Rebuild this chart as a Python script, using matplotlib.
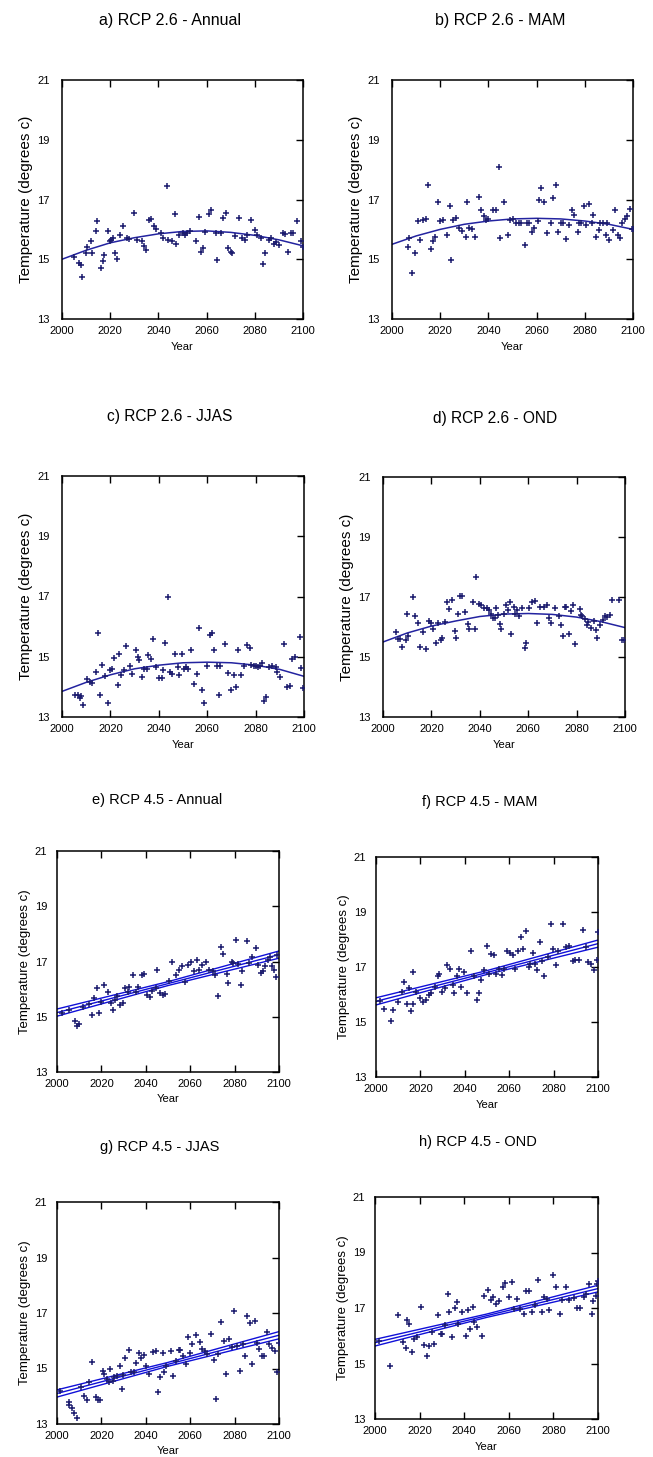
"""Eight-panel temperature projections (RCP 2.6 / 4.5) with fitted trends."""
import matplotlib
matplotlib.use("Agg")
import matplotlib.pyplot as plt

plt.rcParams['font.family'] = ['Liberation Sans', 'DejaVu Sans']

W, H = 653, 1457

# ---- data: (year, temperature) ----
a_pts = [(2005, 15.06), (2007, 14.88), (2008, 14.82), (2008.5, 14.42), (2010, 15.2),
         (2010.5, 15.4), (2012, 15.6), (2012.5, 15.2), (2014, 15.93), (2014.5, 16.27),
         (2016, 14.72), (2017, 14.95), (2017.5, 15.14), (2019, 15.93), (2020, 15.6),
         (2020.5, 15.64), (2021, 15.7), (2022, 15.2), (2023, 15.0), (2024, 15.8),
         (2025.5, 16.1), (2027, 15.7), (2028, 15.67), (2030, 16.55), (2031, 15.65),
         (2033, 15.6), (2034, 15.44), (2035, 15.3), (2036, 16.3), (2037, 16.35),
         (2038, 16.1), (2039, 16.0), (2041, 15.87), (2042, 15.7), (2043.5, 17.45),
         (2044, 15.64), (2045.5, 15.6), (2047, 16.5), (2047.5, 15.5), (2048.5, 15.8),
         (2050, 15.87), (2051, 15.8), (2052, 15.87), (2053, 15.93), (2055.5, 15.6),
         (2056.7, 16.4), (2057.6, 15.25), (2058.7, 15.36), (2059.5, 15.9), (2061, 16.5),
         (2062, 16.66), (2064, 15.87), (2064.5, 14.96), (2066, 15.87), (2067, 16.38),
         (2068, 16.55), (2069, 15.36), (2070, 15.25), (2070.7, 15.2), (2071.6, 15.78),
         (2073.5, 16.38), (2074.8, 15.7), (2076, 15.64), (2076.6, 15.8), (2078.5, 16.32),
         (2080, 15.98), (2081, 15.8), (2082.5, 15.7), (2083.6, 14.85), (2084.4, 15.2),
         (2085.7, 15.64), (2086.7, 15.7), (2088, 15.5), (2089, 15.59), (2090, 15.47),
         (2091.5, 15.87), (2092.5, 15.84), (2093.7, 15.25), (2095, 15.87), (2096, 15.87),
         (2097.7, 16.27), (2099, 15.6), (2100, 15.42)]

b_pts = [(2006.5, 15.4), (2007, 15.7), (2008.5, 14.54), (2009.6, 15.2), (2010.7, 16.27),
         (2011.7, 15.64), (2013, 16.32), (2014, 16.35), (2014.8, 17.5), (2016, 15.34),
         (2017, 15.6), (2018, 15.76), (2019, 16.92), (2020, 16.27), (2021, 16.32),
         (2023, 15.8), (2024, 16.78), (2024.5, 14.98), (2025.5, 16.32), (2026.5, 16.38),
         (2028, 16.04), (2029, 15.93), (2030.5, 15.76), (2031, 16.9), (2032, 16.04),
         (2033, 16.0), (2034.5, 15.76), (2036, 17.1), (2037, 16.64), (2038, 16.44),
         (2039, 16.32), (2040, 16.35), (2042, 16.64), (2043, 16.66), (2044.5, 18.1),
         (2045, 15.7), (2046.5, 16.92), (2048, 15.8), (2049, 16.32), (2050, 16.35),
         (2051.5, 16.21), (2052.5, 16.21), (2053.5, 16.21), (2055, 15.47), (2056, 16.21),
         (2057, 16.21), (2058, 15.9), (2059, 16.04), (2060.5, 16.27), (2061, 17.0),
         (2062, 17.4), (2063, 16.9), (2064.5, 15.87), (2066, 16.21), (2067, 17.04),
         (2068, 17.5), (2069, 15.9), (2070, 16.21), (2071, 16.21), (2072, 15.68),
         (2073.5, 16.15), (2074.5, 16.66), (2075.6, 16.49), (2077, 15.9), (2077.6, 16.21),
         (2078.5, 16.21), (2079.7, 16.77), (2080.6, 16.15), (2081.7, 16.86), (2083, 16.21),
         (2083.6, 16.49), (2084.8, 15.76), (2086, 15.98), (2086.5, 16.21), (2087.6, 16.21),
         (2088.6, 15.8), (2089.2, 16.21), (2090, 15.64), (2091.7, 15.98), (2092.5, 16.64),
         (2093.7, 15.8), (2094.5, 15.7), (2095.6, 16.21), (2096.6, 16.35), (2097.6, 16.44),
         (2098.7, 16.68), (2099.7, 16.0), (2100, 16.0)]

c_pts = [(2005.4, 13.74), (2006.5, 13.72), (2007.5, 13.63), (2008, 13.7), (2008.5, 13.4),
         (2010.5, 14.27), (2011.6, 14.16), (2012.4, 14.14), (2014, 14.49), (2014.7, 15.78),
         (2015.8, 13.72), (2016.7, 14.73), (2017.8, 14.36), (2018.9, 13.47), (2019.8, 14.55),
         (2020.5, 14.6), (2021.4, 14.95), (2023, 14.07), (2023.6, 15.09), (2024.5, 14.38),
         (2025.6, 14.55), (2026.4, 15.35), (2028, 14.7), (2028.8, 14.43), (2030.4, 15.23),
         (2031.2, 14.98), (2032, 14.9), (2033, 14.32), (2034, 14.6), (2035, 14.6),
         (2035.7, 15.05), (2036.6, 14.92), (2037.6, 15.6), (2038.9, 14.65), (2040.1, 14.3),
         (2041.2, 14.3), (2041.7, 14.55), (2042.7, 15.45), (2043.8, 16.98), (2044.8, 14.49),
         (2045.4, 14.43), (2046.6, 15.09), (2047.9, 14.65), (2048.5, 14.38), (2049.5, 15.09),
         (2050.5, 14.6), (2051.3, 14.65), (2052, 14.6), (2053.2, 15.23), (2054.4, 14.1),
         (2055.7, 14.43), (2056.8, 15.97), (2057.9, 13.9), (2058.8, 13.47), (2059.9, 14.68),
         (2061, 15.71), (2062, 15.78), (2063, 15.23), (2063.9, 14.68), (2064.7, 13.74),
         (2065.4, 14.7), (2067.3, 15.41), (2068.5, 14.46), (2069.8, 13.9), (2070.9, 14.38),
         (2072, 13.98), (2072.9, 15.23), (2074, 14.38), (2075.1, 14.68), (2076.3, 15.38),
         (2077.5, 15.3), (2078.1, 14.73), (2079.4, 14.68), (2080.2, 14.68), (2081, 14.65),
         (2081.8, 14.68), (2082.5, 14.79), (2083.3, 13.54), (2084.1, 13.66), (2085.6, 14.65),
         (2086.9, 14.68), (2088.5, 14.65), (2089, 14.49), (2090.2, 14.32), (2091.8, 15.41),
         (2093, 13.98), (2094.1, 14.04), (2095.2, 14.92), (2096.4, 15.0), (2098.3, 15.67),
         (2098.8, 14.62), (2099.6, 13.96)]

d_pts = [(2005.5, 15.82), (2006.3, 15.59), (2007, 15.59), (2007.8, 15.32), (2009.4, 15.57),
         (2009.8, 16.45), (2010.5, 15.71), (2012.5, 17.0), (2013.3, 16.37), (2014.5, 16.12),
         (2015.2, 15.35), (2016.4, 15.82), (2017.7, 15.27), (2019.2, 16.2), (2019.8, 16.12),
         (2020.8, 15.95), (2021.9, 15.46), (2022.7, 16.12), (2023.9, 15.57), (2024.5, 15.63),
         (2025.5, 16.18), (2026.6, 16.84), (2027.3, 16.59), (2028.6, 16.89), (2029.7, 15.87),
         (2030.2, 15.63), (2030.8, 16.45), (2032, 17.05), (2032.8, 17.05), (2033.9, 16.51),
         (2035.2, 16.09), (2035.5, 15.95), (2037, 16.84), (2038, 15.93), (2038.6, 17.66),
         (2039.5, 16.78), (2040.6, 16.75), (2041.7, 16.64), (2043, 16.64), (2043.8, 16.56),
         (2044.5, 16.45), (2045.3, 16.31), (2046.1, 16.31), (2046.9, 16.64), (2047.7, 16.4),
         (2048.4, 16.09), (2048.9, 15.95), (2050, 16.42), (2050.8, 16.73), (2051.6, 16.56),
         (2052.3, 16.84), (2052.7, 15.76), (2054.2, 16.67), (2054.7, 16.45), (2055.5, 16.56),
         (2056.3, 16.37), (2057.4, 16.64), (2058.6, 15.3), (2059, 15.46), (2060.5, 16.64),
         (2061.4, 16.84), (2063, 16.86), (2063.6, 16.12), (2064.8, 16.67), (2066.4, 16.67),
         (2067.7, 16.73), (2068.8, 16.29), (2069.5, 16.12), (2071, 16.64), (2072.7, 16.37),
         (2073.5, 16.07), (2074.2, 15.71), (2075, 16.67), (2075.8, 16.67), (2076.7, 15.76),
         (2077.7, 16.53), (2078.6, 16.73), (2079.2, 15.43), (2081.3, 16.59), (2081.7, 16.4),
         (2082.3, 16.37), (2083.3, 16.26), (2084.4, 16.07), (2084.8, 16.18), (2085.9, 15.98),
         (2087, 16.2), (2088, 15.9), (2088.6, 15.63), (2089.8, 16.07), (2091.1, 16.23),
         (2091.7, 16.37), (2092.7, 16.34), (2093.8, 16.4), (2094.5, 16.89), (2097.7, 16.89),
         (2098.9, 15.57), (2099.5, 15.57)]

e_pts = [(2002.4, 15.12), (2005.5, 15.24), (2007.9, 14.84), (2009, 14.67), (2010, 14.75),
         (2011.8, 15.36), (2014.2, 15.45), (2015.8, 15.06), (2016.5, 15.67), (2017.8, 16.05),
         (2018.9, 15.12), (2020, 15.55), (2021.3, 16.15), (2022.8, 15.9), (2024.1, 15.48),
         (2025.2, 15.24), (2026, 15.6), (2027.2, 15.76), (2028.3, 15.42), (2029.9, 15.48),
         (2030.7, 16.03), (2031.9, 15.9), (2032.6, 16.09), (2034.2, 16.5), (2035.8, 15.88),
         (2036.7, 16.09), (2038.3, 16.5), (2039.4, 16.54), (2040.5, 15.79), (2041.7, 15.73),
         (2043, 15.94), (2044.6, 16.05), (2045.2, 16.7), (2046.5, 15.85), (2047.7, 15.79),
         (2048.8, 15.82), (2050.4, 16.3), (2051.9, 16.98), (2053.5, 16.5), (2055.1, 16.7),
         (2056.2, 16.82), (2057.8, 16.25), (2059, 16.88), (2060.3, 17.0), (2061.9, 16.64),
         (2063, 17.06), (2064.1, 16.7), (2065.4, 16.88), (2066.9, 17.0), (2068.5, 16.7),
         (2070.1, 16.64), (2071.3, 16.52), (2072.4, 15.76), (2074, 17.51), (2074.8, 17.27),
         (2076.4, 16.54), (2077.2, 16.21), (2078.7, 16.98), (2079.5, 16.94), (2080.8, 17.79),
         (2081.4, 16.9), (2083, 16.15), (2083.5, 16.64), (2085.5, 17.73), (2086.6, 16.94),
         (2087.7, 17.18), (2089.8, 17.48), (2090.6, 16.88), (2092.1, 16.58), (2092.9, 16.64),
         (2093.7, 16.82), (2095, 17.06), (2096.1, 17.18), (2096.9, 16.82), (2097.6, 16.7),
         (2098.7, 16.45), (2099.2, 17.24)]

f_pts = [(2002, 15.78), (2003.7, 15.48), (2006.9, 15.04), (2007.7, 15.42), (2010.1, 15.72),
         (2011.7, 16.1), (2012.8, 16.46), (2013.8, 15.64), (2014.9, 16.22), (2015.7, 15.4),
         (2016.5, 15.66), (2016.6, 16.82), (2018.1, 16.1), (2019.7, 15.86), (2021.3, 15.74),
         (2022.5, 15.8), (2023.8, 15.98), (2025, 16.04), (2026.6, 16.28), (2027.8, 16.66),
         (2028.6, 16.76), (2029.8, 16.1), (2031, 16.22), (2032.1, 17.06), (2033.4, 16.94),
         (2034.7, 16.34), (2035.3, 16.06), (2036.6, 16.66), (2037.4, 16.94), (2038.2, 16.28),
         (2039.8, 16.82), (2041.1, 16.06), (2043, 17.6), (2044.3, 16.66), (2045.4, 15.8),
         (2046.2, 16.04), (2047.5, 16.54), (2048.6, 16.88), (2049.8, 17.78), (2050.7, 16.76),
         (2051.8, 17.48), (2053, 17.42), (2054.2, 16.76), (2055.5, 16.94), (2056.7, 16.7),
         (2057.5, 16.94), (2059.1, 17.6), (2060.3, 17.5), (2061.5, 17.42), (2062.6, 16.94),
         (2063.9, 17.6), (2065.5, 18.08), (2066.3, 17.66), (2067.4, 18.32), (2068.7, 17.0),
         (2069.5, 17.12), (2070.6, 17.5), (2071.6, 17.12), (2072.7, 16.88), (2073.8, 17.9),
         (2074.8, 17.22), (2075.9, 16.66), (2077.4, 17.36), (2078.7, 18.56), (2079.9, 17.66),
         (2081.1, 17.06), (2082.2, 17.6), (2084.3, 18.56), (2085.5, 17.72), (2086.8, 17.78),
         (2088.8, 17.22), (2089.7, 17.24), (2091.3, 17.26), (2093.3, 18.34), (2094.5, 17.72),
         (2095.7, 17.18), (2096.8, 17.12), (2098.1, 16.88), (2099.4, 17.24), (2100, 18.26)]

g_pts = [(2001.3, 14.2), (2005.2, 13.67), (2005.6, 13.79), (2006.8, 13.57), (2007.7, 13.4),
         (2008.9, 13.21), (2011, 14.32), (2012.1, 14.0), (2013.7, 13.85), (2014.5, 14.5),
         (2015.8, 15.24), (2017.4, 13.96), (2018.5, 13.85), (2019.4, 13.85), (2020.6, 14.92),
         (2021.3, 14.8), (2022.3, 14.62), (2023.4, 14.52), (2023.9, 15.0), (2025, 14.56),
         (2025.8, 14.68), (2027.1, 14.74), (2028.2, 15.1), (2029.4, 14.26), (2029.8, 14.76),
         (2030.6, 15.39), (2032.3, 15.67), (2033.5, 14.86), (2034.7, 14.86), (2035.8, 15.19),
         (2037.1, 15.55), (2037.9, 15.39), (2039, 15.48), (2040, 15.1), (2041.6, 14.8),
         (2043.2, 15.6), (2044.4, 15.63), (2045.5, 14.14), (2046.5, 14.68), (2047.6, 15.55),
         (2048.4, 14.86), (2049.2, 15.1), (2051.3, 15.63), (2052.4, 14.74), (2053.5, 15.27),
         (2054.8, 15.67), (2055.6, 15.67), (2056.8, 15.46), (2058.1, 15.15), (2058.9, 16.14),
         (2060, 15.57), (2061, 15.87), (2062.6, 16.19), (2064.2, 15.95), (2065.3, 15.71),
         (2066.5, 15.63), (2067.7, 15.51), (2069.4, 16.23), (2070.6, 15.31), (2071.5, 13.9),
         (2072.6, 15.51), (2073.9, 16.67), (2075, 15.99), (2076.1, 14.8), (2077.4, 16.07),
         (2078.7, 15.79), (2079.8, 17.06), (2081, 15.81), (2082.3, 14.92), (2083.9, 15.87),
         (2084.7, 15.46), (2085.5, 16.9), (2086.8, 16.64), (2087.9, 15.15), (2089, 16.7),
         (2090, 15.93), (2091.1, 15.69), (2092.3, 15.46), (2093.2, 15.46), (2094.4, 16.31),
         (2095.5, 15.87), (2096.8, 15.75), (2098.1, 15.63), (2099.2, 14.86), (2100, 15.93)]

h_pts = [(2002, 15.82), (2006.9, 14.91), (2010.1, 16.73), (2012.5, 15.78), (2013.8, 15.57),
         (2014.4, 16.55), (2015.4, 16.43), (2016.5, 15.41), (2017.7, 15.88), (2018.9, 15.94),
         (2020.5, 17.04), (2021.8, 15.66), (2023.4, 15.26), (2024.1, 15.63), (2025.4, 16.12),
         (2026.6, 15.69), (2028.2, 16.73), (2029.4, 16.06), (2030.2, 16.06), (2031.5, 16.37),
         (2032.6, 17.52), (2033.4, 16.86), (2034.7, 15.94), (2035.8, 17.0), (2036.9, 17.2),
         (2037.4, 16.43), (2039, 16.86), (2040.6, 16.0), (2041.7, 16.92), (2042.7, 16.25),
         (2043.8, 17.04), (2044.6, 16.49), (2045.9, 16.3), (2047.8, 16.0), (2049.1, 17.44),
         (2050.7, 17.65), (2051.8, 17.28), (2052.9, 17.4), (2054.2, 17.16), (2055.5, 17.24),
         (2057.4, 17.77), (2058.3, 17.9), (2059.9, 17.4), (2061.5, 17.93), (2062.3, 16.98),
         (2063.9, 17.34), (2065.2, 16.98), (2066.8, 16.79), (2067.9, 17.62), (2069, 17.62),
         (2070.3, 16.86), (2071.6, 17.1), (2073.2, 18.0), (2074.8, 16.84), (2075.9, 17.4),
         (2077, 17.32), (2078, 16.92), (2079.9, 18.2), (2081.2, 17.77), (2082.8, 16.79),
         (2083.9, 17.28), (2085.6, 17.77), (2087.2, 17.28), (2089.2, 17.36), (2090.8, 17.0),
         (2092, 17.0), (2093.6, 17.4), (2094.4, 17.52), (2096, 17.85), (2097.3, 16.79),
         (2097.9, 17.24), (2098.9, 17.44), (2099.5, 17.85), (2100, 17.96)]

# fitted trends (RCP 2.6: curved fit; RCP 4.5: linear fit with bounds)
fit26_years = [2000, 2010, 2020, 2030, 2040, 2050, 2060, 2070, 2080, 2090, 2100]
a_fit = [15.0, 15.3, 15.55, 15.72, 15.85, 15.93, 15.95, 15.9, 15.8, 15.65, 15.45]
b_fit = [15.5, 15.78, 16.0, 16.17, 16.28, 16.35, 16.37, 16.35, 16.28, 16.17, 16.0]
c_fit = [13.85, 14.15, 14.4, 14.6, 14.72, 14.8, 14.82, 14.8, 14.72, 14.58, 14.35]
d_fit = [15.5, 15.8, 16.03, 16.2, 16.35, 16.43, 16.45, 16.42, 16.33, 16.18, 15.98]

fit45_years = [2000, 2050, 2100]
e_fit, e_lo, e_hi = [15.15, 16.2, 17.25], [15.02, 16.13, 17.12], [15.28, 16.27, 17.38]
f_fit, f_lo, f_hi = [15.75, 16.8, 17.85], [15.62, 16.73, 17.72], [15.88, 16.87, 17.98]
g_fit, g_lo, g_hi = [14.1, 15.15, 16.2], [13.97, 15.08, 16.07], [14.23, 15.22, 16.33]
h_fit, h_lo, h_hi = [15.75, 16.72, 17.7], [15.63, 16.66, 17.58], [15.87, 16.78, 17.82]

titles = ['a) RCP 2.6 - Annual', 'b) RCP 2.6 - MAM', 'c) RCP 2.6 - JJAS', 'd) RCP 2.6 - OND',
          'e) RCP 4.5 - Annual', 'f) RCP 4.5 - MAM', 'g) RCP 4.5 - JJAS', 'h) RCP 4.5 - OND']

# axes boxes in pixels: left, top, right, bottom ; title centre in pixels
boxes = [(62, 80, 303, 319), (392, 80, 633, 319),
         (62, 476, 304, 717), (383, 477, 625, 717),
         (57, 851, 279, 1072), (376, 857, 598, 1077),
         (57, 1202, 279, 1424), (375, 1197, 598, 1419)]
title_pos = [(170, 20), (500, 20), (170, 417), (495, 418),
             (157, 800), (480, 802), (160, 1147), (478, 1142)]
# the upper panels are pasted at a slightly larger scale than the lower ones
title_size = [11.5, 11.5, 11.2, 11.2, 10.5, 10.5, 10.5, 10.5]
ylabel_size = [11.0, 11.0, 11.0, 11.0, 9.5, 9.5, 9.5, 9.5]

POINT_COLOR = '#1b1b6e'
LINE26 = '#2323a0'
LINE45 = '#1010d8'

panels = [
    (a_pts, fit26_years, a_fit, None, None),
    (b_pts, fit26_years, b_fit, None, None),
    (c_pts, fit26_years, c_fit, None, None),
    (d_pts, fit26_years, d_fit, None, None),
    (e_pts, fit45_years, e_fit, e_lo, e_hi),
    (f_pts, fit45_years, f_fit, f_lo, f_hi),
    (g_pts, fit45_years, g_fit, g_lo, g_hi),
    (h_pts, fit45_years, h_fit, h_lo, h_hi),
]

fig = plt.figure(figsize=(W / 100, H / 100), dpi=100)

for i, (pts, fx, fy, lo, hi) in enumerate(panels):
    l, t, r, b = boxes[i]
    ax = fig.add_axes([l / W, 1 - b / H, (r - l) / W, (b - t) / H])
    xs, ys = zip(*pts)
    ax.plot(xs, ys, '+', color=POINT_COLOR, ms=5, mew=1.1, zorder=3)
    if lo is None:
        ax.plot(fx, fy, color=LINE26, lw=1.1, zorder=2)
    else:
        ax.plot(fx, fy, color=LINE45, lw=1.0, zorder=2)
        ax.plot(fx, lo, color=LINE45, lw=1.0, zorder=2)
        ax.plot(fx, hi, color=LINE45, lw=1.0, zorder=2)

    ax.set_xlim(2000, 2100)
    ax.set_ylim(13, 21)
    ax.set_xticks(range(2000, 2101, 20))
    ax.set_yticks([13, 15, 17, 19, 21])
    ax.tick_params(direction='in', length=5, width=1, top=True, right=True,
                   labelsize=8, colors='black')
    ax.tick_params(axis='x', pad=5)
    ax.tick_params(axis='y', pad=9 if i < 4 else 7)
    for tk in ax.yaxis.get_major_ticks():
        tk.tick1line.set_visible(False)
    for s in ax.spines.values():
        s.set_linewidth(1.1)
    ax.set_xlabel('Year', fontsize=8, labelpad=4)
    ax.set_ylabel('Temperature (degrees c)', fontsize=ylabel_size[i], labelpad=3)

    tx, ty = title_pos[i]
    fig.text(tx / W, 1 - ty / H, titles[i], ha='center', va='center',
             fontsize=title_size[i])

fig.savefig('out.png', dpi=100, facecolor='white')
plt.close(fig)
